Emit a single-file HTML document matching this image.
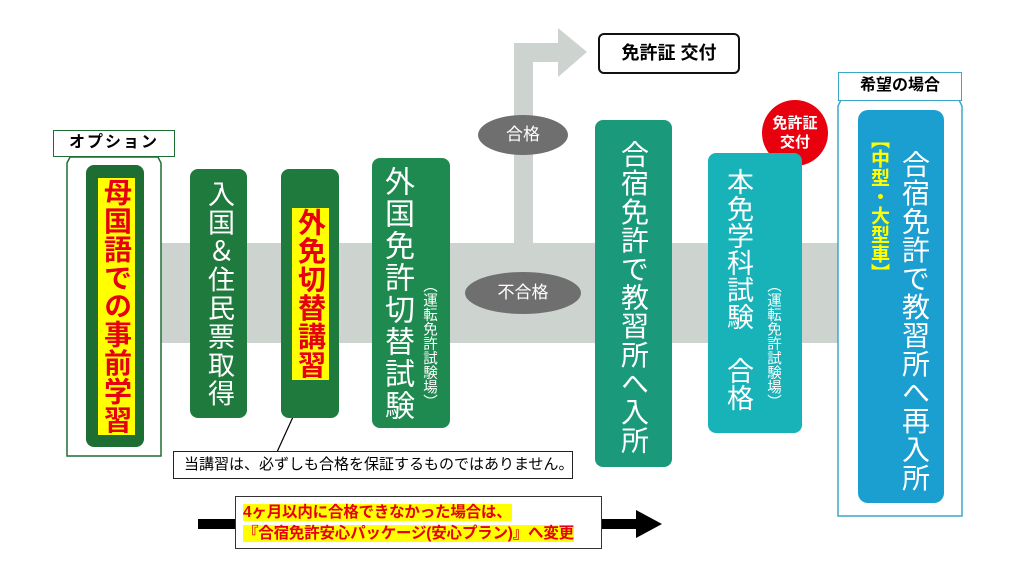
<!DOCTYPE html>
<html><head><meta charset="utf-8"><style>
body{margin:0;width:1024px;height:584px;background:#fff;position:relative;overflow:hidden;font-family:"Liberation Sans","Noto Sans CJK JP",sans-serif;}
.a{position:absolute;box-sizing:border-box;}
.v{writing-mode:vertical-rl;text-orientation:upright;color:#fff;line-height:1;white-space:nowrap;}
.box{border-radius:8px;}
</style></head><body>
<div class="a" style="left:160px;top:243px;width:690px;height:100px;background:#cdd3cf"></div>
<svg class="a" style="left:0;top:0" width="1024" height="584">
<rect x="514" y="43" width="19" height="205" fill="#cdd3cf"/>
<rect x="514" y="43" width="48" height="19" fill="#cdd3cf"/>
<polygon points="558,28 587,52 558,77" fill="#cdd3cf"/>
<ellipse cx="523" cy="135" rx="45" ry="20" fill="#6f6f6f"/>
<ellipse cx="523" cy="293" rx="58" ry="21" fill="#6f6f6f"/>
<polygon points="70,157 158,157 161,163 161,456 67,456 67,163" fill="#fff" stroke="#1e6e34" stroke-width="1.5"/>
<polygon points="841,100 959,100 962,106 962,516 838,516 838,106" fill="#fff" stroke="#3aa8c8" stroke-width="1.5"/>
<line x1="303" y1="395" x2="277" y2="452" stroke="#000" stroke-width="1.2"/>
<circle cx="795" cy="133" r="33" fill="#e8000e"/>
<polygon points="772,150 790,160 766,177" fill="#e8000e"/>
<rect x="198" y="519" width="444" height="10" fill="#000"/>
<polygon points="636,510 662,524 636,538" fill="#000"/>
</svg>
<div class="a" style="left:478px;top:124px;width:90px;text-align:center;color:#fff;font-size:17px;line-height:22px">合格</div>
<div class="a" style="left:465px;top:282px;width:116px;text-align:center;color:#fff;font-size:17px;line-height:22px">不合格</div>

<div class="a" style="left:53px;top:130px;width:122px;height:27px;border:1.5px solid #1e6e34;font-size:16px;font-weight:bold;text-align:center;line-height:24px;letter-spacing:2px;background:#fff">オプション</div>
<div class="a box" style="left:86px;top:165px;width:58px;height:282px;background:#1e6e34"></div>
<div class="a" style="left:98px;top:178px;width:37px;height:257px;background:#ffff00"></div>
<div class="a v" style="left:98px;top:178px;width:37px;color:#e60012;font-size:28px;font-weight:bold;line-height:37px;letter-spacing:0.4px">母国語での事前学習</div>

<div class="a box" style="left:190px;top:169px;width:57px;height:249px;background:#1f7a3e"></div>
<div class="a v" style="left:190px;top:180px;width:57px;font-size:27px;line-height:57px;letter-spacing:1.5px">入国＆住民票取得</div>

<div class="a box" style="left:281px;top:169px;width:58px;height:249px;background:#1f7a3e"></div>
<div class="a" style="left:292px;top:208px;width:37px;height:172px;background:#ffff00"></div>
<div class="a v" style="left:292px;top:208px;width:37px;color:#e60012;font-size:28px;font-weight:bold;line-height:37px;letter-spacing:0.5px">外免切替講習</div>

<div class="a box" style="left:372px;top:158px;width:78px;height:270px;background:#1e8a50"></div>
<div class="a v" style="left:376px;top:166px;width:40px;font-size:30px;line-height:40px;letter-spacing:2px">外国免許切替試験</div>
<div class="a v" style="left:416px;top:278px;width:26px;font-size:14.5px;line-height:26px">（運転免許試験場）</div>

<div class="a" style="left:598px;top:33px;width:142px;height:41px;border:2px solid #111;border-radius:6px;font-size:18px;font-weight:bold;text-align:center;line-height:37px;background:#fff">免許証 交付</div>

<div class="a box" style="left:595px;top:120px;width:77px;height:347px;background:#1a9a7a"></div>
<div class="a v" style="left:595px;top:140px;width:77px;font-size:28px;line-height:77px;letter-spacing:0.6px">合宿免許で教習所へ入所</div>

<div class="a box" style="left:708px;top:153px;width:94px;height:280px;background:#17b3b9"></div>
<div class="a v" style="left:716px;top:168px;width:44px;font-size:27px;line-height:44px;letter-spacing:0">本免学科試験&#12288;合格</div>
<div class="a v" style="left:760px;top:278px;width:26px;font-size:14.5px;line-height:26px">（運転免許試験場）</div>

<div class="a" style="left:762px;top:114px;width:66px;text-align:center;color:#fff;font-size:15px;font-weight:bold;line-height:19px">免許証<br>交付</div>

<div class="a" style="left:838px;top:72px;width:124px;height:29px;border:1.5px solid #3aa8c8;font-size:16px;font-weight:bold;text-align:center;line-height:26px;background:#fff">希望の場合</div>
<div class="a box" style="left:858px;top:110px;width:86px;height:393px;background:#1a9fd0;border-radius:10px"></div>
<div class="a v" style="left:866px;top:130px;width:24px;font-size:19px;line-height:24px;color:#ffff00;font-weight:bold">【中型・大型車】</div>
<div class="a v" style="left:894px;top:150px;width:40px;font-size:28px;line-height:40px;letter-spacing:0.5px">合宿免許で教習所へ再入所</div>

<div class="a" style="left:173px;top:451px;width:400px;height:28px;border:1.5px solid #222;font-size:15px;line-height:25px;padding-left:10px;background:#fff;white-space:nowrap">当講習は、必ずしも合格を保証するものではありません。</div>

<div class="a" style="left:235px;top:496px;width:367px;height:53px;border:1.5px solid #333;background:#fff"></div>
<div class="a" style="left:243px;top:502px;font-size:15.5px;font-weight:bold;line-height:21px;color:#e60012;white-space:nowrap;letter-spacing:-0.2px">
<span style="background:#ffff00">4ヶ月以内に合格できなかった場合は、</span><br><span style="background:#ffff00">『合宿免許安心パッケージ(安心プラン)』へ変更</span></div>
</body></html>
